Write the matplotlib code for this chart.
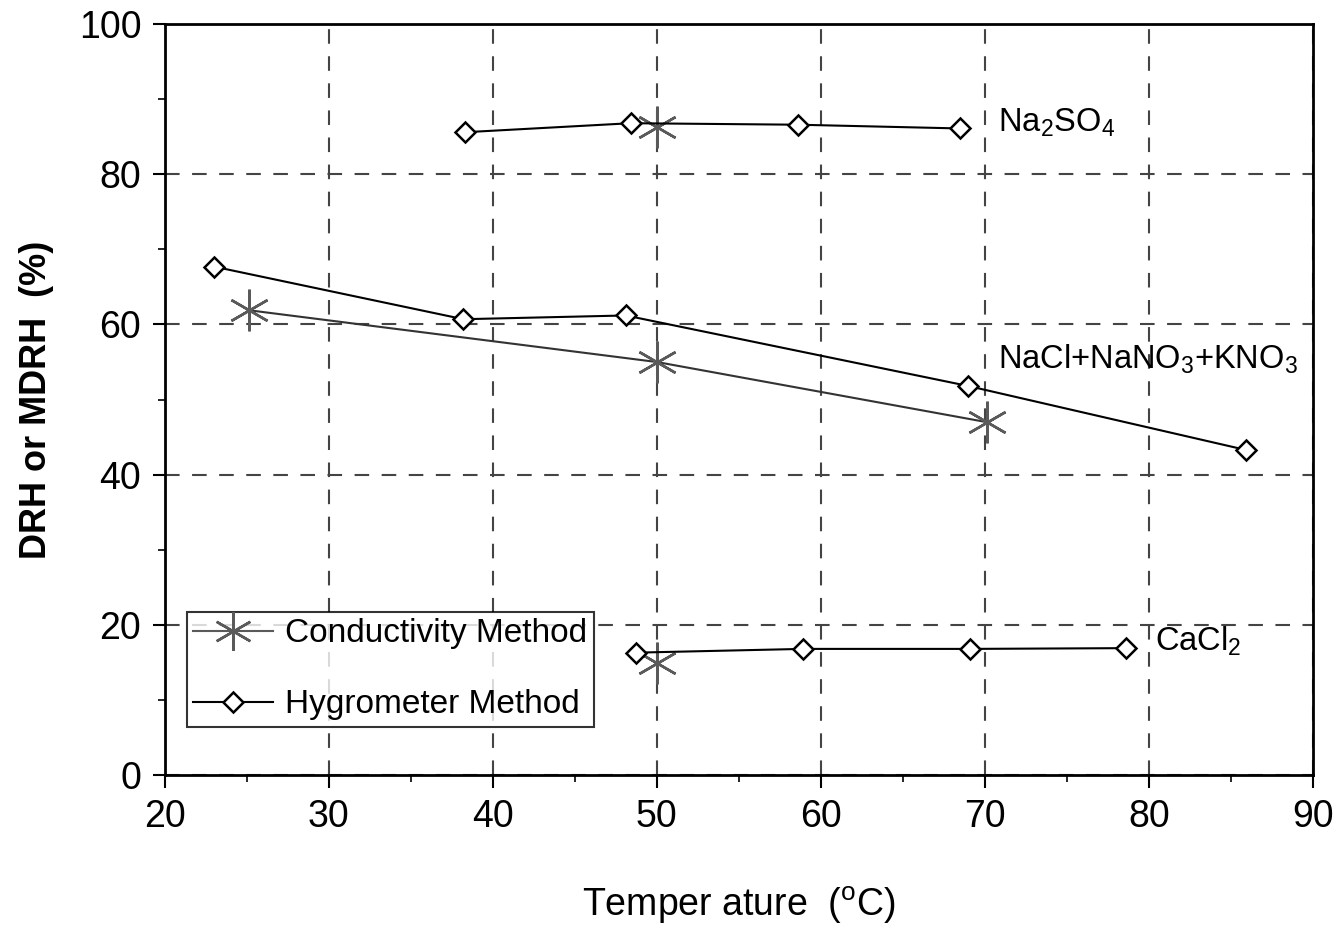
import matplotlib
matplotlib.use('Agg')
import matplotlib.pyplot as plt
from matplotlib.ticker import MultipleLocator

plt.rcParams['font.family'] = ['Liberation Sans', 'DejaVu Sans']
plt.rcParams['mathtext.default'] = 'regular'

# Na2SO4
na2so4_hyg_t = [38.3, 48.4, 58.6, 68.5]
na2so4_hyg_rh = [85.6, 86.8, 86.6, 86.1]
na2so4_cond_t = [50.0]
na2so4_cond_rh = [86.3]

# NaCl + NaNO3 + KNO3
mix_hyg_t = [23.0, 38.2, 48.1, 69.0, 85.9]
mix_hyg_rh = [67.7, 60.7, 61.2, 51.8, 43.3]
mix_cond_t = [25.1, 50.0, 70.1]
mix_cond_rh = [61.9, 55.0, 47.0]

# CaCl2
cacl2_hyg_t = [48.7, 58.9, 69.1, 78.6]
cacl2_hyg_rh = [16.3, 16.8, 16.8, 16.9]
cacl2_cond_t = [50.0]
cacl2_cond_rh = [14.9]

salt_labels = ['Na$_2$SO$_4$', 'NaCl+NaNO$_3$+KNO$_3$', 'CaCl$_2$']
label_pos = [(70.8, 86.8), (70.8, 55.3), (80.4, 17.8)]

fig = plt.figure(figsize=(13.41, 9.26), dpi=100)
ax = fig.add_axes([0.123, 0.163, 0.856, 0.811])

cond_color = '#5a5a5a'
hyg_kw = dict(color='black', lw=1.5, marker='D', ms=10.5, mfc='white', mec='black', mew=1.8)
cond_kw = dict(color='#333333', lw=1.5, marker=(6, 2, 0), ms=30, mew=1.8, mec=cond_color)

# hygrometer lines
ax.plot(na2so4_hyg_t, na2so4_hyg_rh, **hyg_kw, zorder=4)
ax.plot(mix_hyg_t, mix_hyg_rh, **hyg_kw, zorder=4)
ax.plot(cacl2_hyg_t, cacl2_hyg_rh, **hyg_kw, zorder=4)

# conductivity points
ax.plot(mix_cond_t, mix_cond_rh, **cond_kw, zorder=3)
ax.plot(na2so4_cond_t, na2so4_cond_rh, **cond_kw, zorder=3)
ax.plot(cacl2_cond_t, cacl2_cond_rh, **cond_kw, zorder=3)

for lab, (tx, ty) in zip(salt_labels, label_pos):
    ax.text(tx, ty, lab, fontsize=23.5, ha='left', va='center')

ax.set_xlim(20, 90)
ax.set_ylim(0, 100)
ax.xaxis.set_major_locator(MultipleLocator(10))
ax.xaxis.set_minor_locator(MultipleLocator(5))
ax.yaxis.set_major_locator(MultipleLocator(20))
ax.yaxis.set_minor_locator(MultipleLocator(10))
ax.tick_params(which='major', length=9, width=1.5, labelsize=27, pad=8)
ax.tick_params(which='minor', length=5, width=1.2)

ax.grid(True, which='major', color='#444444', lw=1.5, linestyle=(0, (7, 6)))
for sp in ax.spines.values():
    sp.set_linewidth(2)

ax.set_xlabel('Temper ature  ($^o$C)', fontsize=27, labelpad=36)
ax.set_ylabel('DRH or MDRH  (%)', fontsize=26, fontweight='bold', labelpad=18)

# legend
h1, = ax.plot([], [], label='Conductivity Method', color=cond_color, lw=1.5,
              marker=(6, 2, 0), ms=28, mew=1.8, mec=cond_color)
h2, = ax.plot([], [], label='Hygrometer Method', **hyg_kw)
leg = ax.legend(handles=[h1, h2], loc='lower left', bbox_to_anchor=(0.019, 0.064),
                fontsize=24, frameon=True, fancybox=False, edgecolor='black',
                handlelength=2.4, labelspacing=1.2, borderpad=0.2, handletextpad=0.35,
                borderaxespad=0)
leg.get_frame().set_linewidth(1.5)

fig.savefig('out.png', dpi=100)
